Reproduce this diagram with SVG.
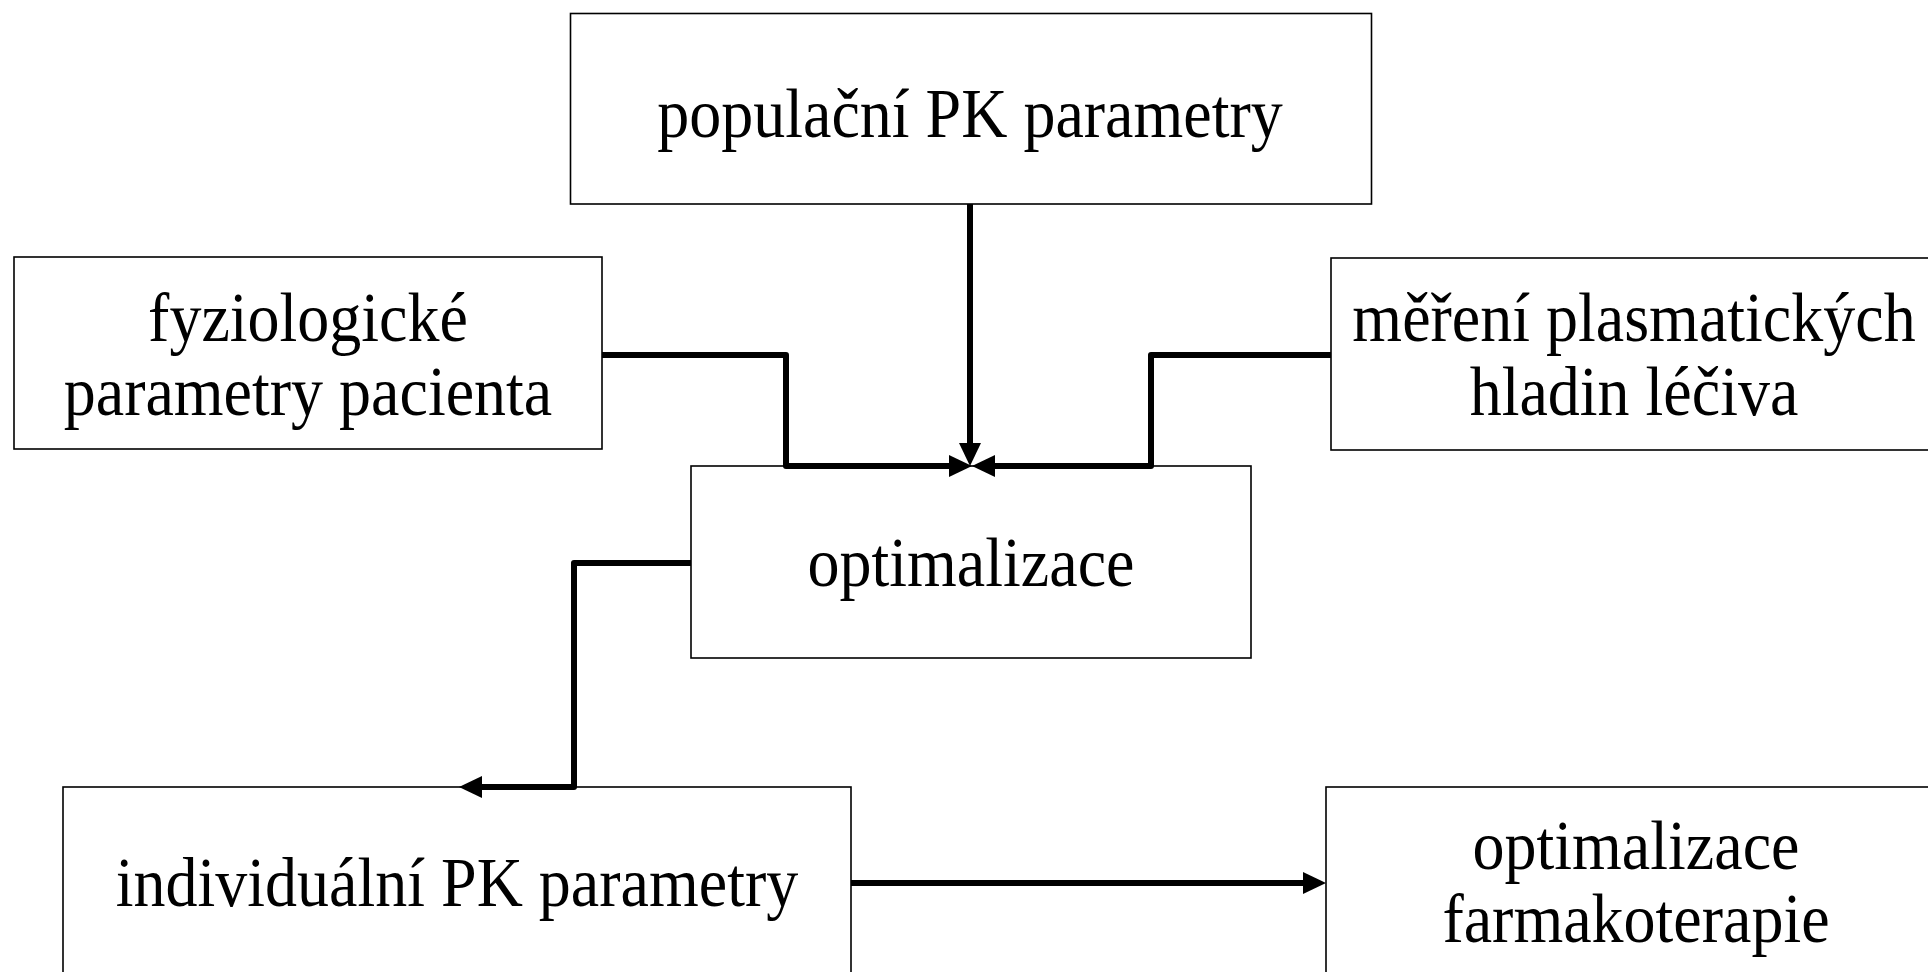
<svg xmlns="http://www.w3.org/2000/svg" width="1928" height="972" viewBox="0 0 1928 972">
  <style>
    .box { fill: #fff; stroke: #000; stroke-width: 1.6; }
    .lbl { font-family: "Liberation Serif", "Times New Roman", serif; font-size: 64px; fill: #000; text-anchor: middle; }
    .wire { fill: none; stroke: #000; stroke-width: 6; stroke-linejoin: round; marker-end: url(#head); }
  </style>
  <defs>
    <marker id="head" markerUnits="userSpaceOnUse" viewBox="0 0 23 22" refX="2" refY="11" markerWidth="23" markerHeight="22" orient="auto">
      <path d="M0,0 L23,11 L0,22 Z" fill="#000"/>
    </marker>
  </defs>
  <rect width="1928" height="972" fill="#fff"/>

  <g id="node-populacni">
    <rect class="box" x="570.5" y="13.5" width="801" height="190.5"/>
    <text class="lbl" transform="translate(970,137) scale(1,1.1)">populační PK parametry</text>
  </g>

  <g id="node-fyziologicke">
    <rect class="box" x="14" y="257" width="588" height="192"/>
    <text class="lbl" transform="translate(308,341) scale(1,1.1)">fyziologické</text>
    <text class="lbl" transform="translate(308,415) scale(1,1.1)">parametry pacienta</text>
  </g>

  <g id="node-mereni">
    <rect class="box" x="1331" y="258" width="610" height="192"/>
    <text class="lbl" transform="translate(1634,341) scale(1,1.1)">měření plasmatických</text>
    <text class="lbl" transform="translate(1634,415) scale(1,1.1)">hladin léčiva</text>
  </g>

  <g id="node-optimalizace">
    <rect class="box" x="691" y="466" width="560" height="192"/>
    <text class="lbl" transform="translate(971,586) scale(1,1.1)">optimalizace</text>
  </g>

  <g id="node-individualni">
    <rect class="box" x="63" y="787" width="788" height="200"/>
    <text class="lbl" transform="translate(457,906) scale(1,1.1)">individuální PK parametry</text>
  </g>

  <g id="node-farmakoterapie">
    <rect class="box" x="1326" y="787" width="620" height="200"/>
    <text class="lbl" transform="translate(1636,869) scale(1,1.1)">optimalizace</text>
    <text class="lbl" transform="translate(1636,942) scale(1,1.1)">farmakoterapie</text>
  </g>

  <!-- connectors drawn last so they sit on top of the box outlines -->
  <g id="connectors">
    <path class="wire" d="M970,204 V445"/>
    <path class="wire" d="M602,355 H786 V466 H951"/>
    <path class="wire" d="M1331,355 H1151 V466 H993"/>
    <path class="wire" d="M691,563 H574 V787 H480"/>
    <path class="wire" d="M851,883 H1305"/>
  </g>
</svg>
